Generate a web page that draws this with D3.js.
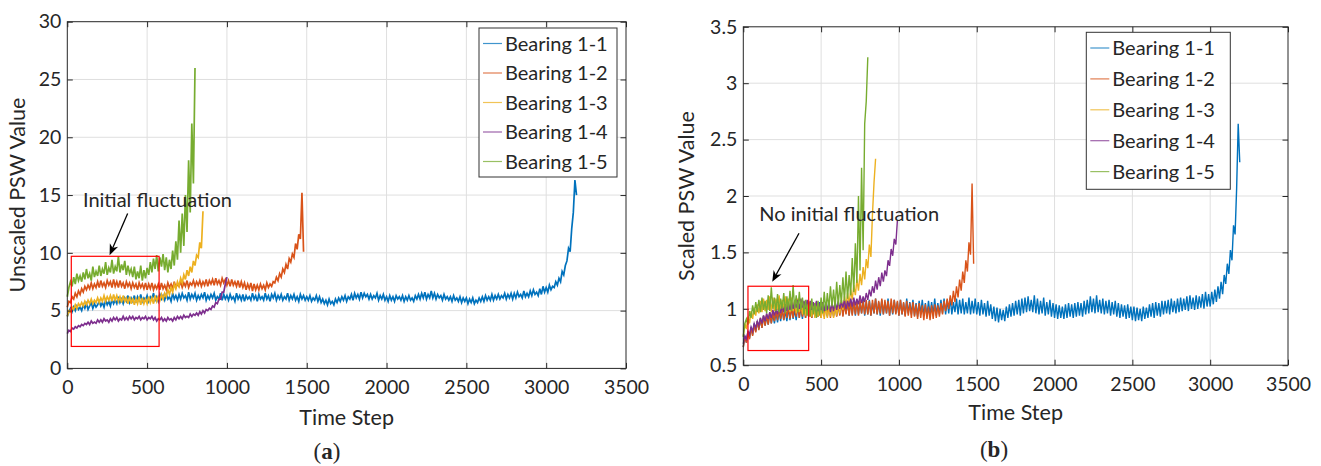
<!DOCTYPE html>
<html><head><meta charset="utf-8">
<script src="https://cdn.jsdelivr.net/npm/d3@7"></script>
<style>
body{margin:0;background:#fff}
svg{display:block}
text{font-family:Lato,"Open Sans",sans-serif;fill:#262626}
</style>
</head><body>
<svg id="c" width="1321" height="466"></svg>
<script>
// ---------- data ----------
const seriesNames = ["Bearing 1-1","Bearing 1-2","Bearing 1-3","Bearing 1-4","Bearing 1-5"];
const seriesColors = ["#0072BD","#D95319","#EDB120","#7E2F8E","#77AC30"];
const timeStep = 10;
const xTickValues = [0,500,1000,1500,2000,2500,3000,3500];
const yTicksUnscaled = [0,5,10,15,20,25,30];
const yTicksScaled = [0.5,1,1.5,2,2.5,3,3.5];

const unscaled11 = [
4.5,4.9,5.2,4.9,5.3,5.0,5.4,5.1,5.3,5.0,
5.5,5.2,5.6,5.1,5.4,5.7,5.2,5.6,5.3,5.5,
5.8,5.4,5.7,5.3,5.9,5.5,5.8,5.4,6.0,5.6,
5.9,5.6,6.2,5.7,6.0,5.6,6.1,5.8,6.3,5.7,
6.1,5.8,6.3,5.7,6.2,5.9,6.4,5.8,6.1,5.9,
6.3,5.8,6.2,6.0,6.5,5.9,6.2,5.8,6.4,6.0,
6.3,5.9,6.4,6.0,6.2,5.8,6.5,6.0,6.3,5.9,
6.4,6.0,6.5,6.1,6.3,5.9,6.6,6.0,6.4,6.1,
6.5,5.9,6.3,6.0,6.4,6.1,6.6,5.9,6.3,6.0,
6.4,6.1,6.5,5.9,6.2,6.0,6.5,5.9,6.4,6.0,
6.3,5.9,6.4,6.0,6.2,5.8,6.5,6.0,6.3,5.9,
6.4,5.8,6.3,6.0,6.2,5.9,6.5,6.0,6.3,5.8,
6.4,6.0,6.2,5.9,6.5,6.0,6.3,5.8,6.4,6.1,
6.5,5.9,6.3,6.0,6.4,5.9,6.2,6.0,6.5,5.9,
6.3,6.0,6.4,5.9,6.2,5.8,6.4,6.0,6.3,5.9,
6.2,5.9,6.3,5.8,6.1,5.9,6.3,5.8,6.2,5.7,
6.0,5.6,5.9,5.5,6.0,5.6,5.8,5.5,6.0,5.7,
6.1,5.8,6.2,5.9,6.3,5.8,6.2,6.0,6.4,5.9,
6.5,6.1,6.4,6.0,6.6,6.1,6.5,6.2,6.4,6.0,
6.4,6.0,6.3,6.1,6.5,5.9,6.3,6.0,6.4,5.9,
6.2,5.8,6.3,5.9,6.2,5.8,6.3,6.0,6.2,5.9,
6.3,5.8,6.2,5.9,6.3,5.9,6.1,5.8,6.3,6.0,
6.4,6.0,6.5,6.1,6.6,6.0,6.4,6.1,6.7,6.1,
6.5,6.0,6.4,6.1,6.3,5.9,6.4,6.0,6.2,5.9,
6.2,5.8,6.3,5.9,6.1,5.8,6.2,5.7,6.1,5.8,
6.1,5.6,6.0,5.7,6.1,5.6,5.9,5.7,6.1,5.8,
6.2,5.8,6.3,5.9,6.2,5.9,6.4,5.9,6.3,6.0,
6.4,6.0,6.3,6.1,6.5,6.0,6.4,6.1,6.5,6.0,
6.5,6.1,6.6,6.2,6.4,6.1,6.7,6.2,6.5,6.2,
6.7,6.3,6.8,6.4,6.6,6.3,6.9,6.4,7.1,6.6,
7.0,6.6,7.2,6.8,7.1,7.0,7.5,7.2,7.8,7.5,
8.4,8.1,8.9,9.3,10.4,10.1,12.1,13.5,16.3,15.0];
const unscaled12 = [
5.3,5.8,5.7,6.2,6.0,6.5,6.2,6.7,6.4,6.9,
6.6,7.1,6.8,7.2,6.9,7.4,6.9,7.3,7.0,7.5,
7.0,7.6,7.1,7.4,7.0,7.6,7.2,7.5,7.0,7.7,
7.1,7.5,7.0,7.6,7.1,7.4,6.9,7.5,7.1,7.4,
6.9,7.4,7.0,7.3,6.8,7.4,7.0,7.3,6.9,7.4,
6.8,7.3,6.9,7.4,6.8,7.2,6.9,7.3,6.8,7.4,
6.9,7.2,6.8,7.4,7.0,7.3,6.9,7.5,7.0,7.3,
7.1,7.5,7.0,7.4,7.1,7.6,7.0,7.4,7.2,7.6,
7.1,7.5,7.2,7.6,7.1,7.5,7.2,7.7,7.1,7.6,
7.3,7.7,7.2,7.8,7.3,7.6,7.2,7.8,7.4,7.7,
7.2,7.6,7.1,7.7,7.2,7.5,7.1,7.6,7.0,7.5,
7.0,7.4,6.8,7.3,6.9,7.4,6.7,7.3,6.8,7.2,
6.8,7.3,6.9,7.2,6.8,7.4,7.0,7.3,7.1,7.5,
7.4,7.9,7.6,8.2,7.9,8.6,8.3,9.0,8.6,9.5,
9.2,9.9,9.6,10.8,10.3,11.6,11.2,15.2,10.1];
const unscaled13 = [
4.5,5.0,4.9,5.3,5.1,5.5,5.2,5.6,5.4,5.7,
5.4,5.8,5.5,5.9,5.6,6.0,5.6,5.9,5.7,6.1,
5.7,6.1,5.8,6.3,5.8,6.2,5.9,6.3,5.8,6.4,
5.9,6.3,5.8,6.2,5.7,6.3,5.8,6.1,5.6,6.2,
5.6,6.1,5.5,6.0,5.6,6.2,5.5,6.1,5.6,6.0,
5.6,6.2,5.7,6.1,5.6,6.3,5.8,6.2,5.9,6.4,
6.0,6.5,6.2,6.8,6.4,7.0,6.6,7.3,6.9,7.5,
7.1,7.8,7.4,8.1,7.7,8.5,8.0,8.8,8.3,9.3,
8.9,9.8,9.6,10.9,10.4,13.6];
const unscaled14 = [
3.0,3.3,3.2,3.5,3.4,3.6,3.5,3.7,3.6,3.8,
3.7,3.9,3.8,4.0,3.8,4.1,3.9,4.0,3.9,4.2,
4.0,4.2,4.0,4.3,4.1,4.2,4.0,4.3,4.1,4.4,
4.2,4.4,4.1,4.3,4.2,4.5,4.2,4.4,4.2,4.5,
4.3,4.5,4.2,4.4,4.3,4.5,4.2,4.4,4.3,4.5,
4.2,4.4,4.3,4.5,4.2,4.4,4.1,4.3,4.2,4.4,
4.1,4.3,4.1,4.4,4.2,4.3,4.1,4.4,4.2,4.5,
4.3,4.5,4.3,4.6,4.4,4.5,4.4,4.7,4.5,4.7,
4.6,4.8,4.6,4.9,4.7,5.0,4.8,5.1,5.0,5.2,
5.1,5.4,5.3,5.7,5.6,6.0,6.0,6.6,6.6,7.3,
7.9];
const unscaled15 = [
6.2,7.0,7.5,7.1,7.9,7.3,8.2,7.6,8.0,7.5,
8.3,7.7,8.6,7.8,8.2,7.6,8.8,7.9,8.4,8.0,
8.9,8.0,8.6,8.2,9.2,8.1,8.7,8.3,9.4,8.2,
8.8,8.4,9.7,8.3,9.0,8.5,9.3,8.1,8.9,8.2,
8.6,7.9,8.8,7.7,8.4,7.8,8.9,7.6,8.5,7.8,
8.7,8.1,9.2,8.3,9.5,8.6,9.8,8.4,9.6,8.8,
9.9,8.5,9.6,8.3,9.4,8.6,10.2,8.9,11.0,9.4,
12.8,10.0,13.4,10.6,15.0,11.8,18.0,13.5,21.2,16.0,
26.0];

const scaled11 = [
0.66,0.76,0.70,0.80,0.74,0.84,0.77,0.87,0.80,0.89,
0.82,0.91,0.83,0.94,0.85,0.93,0.86,0.96,0.87,0.95,
0.87,0.97,0.88,0.98,0.89,1.00,0.90,0.98,0.89,1.01,
0.90,1.02,0.91,0.99,0.90,1.03,0.92,1.01,0.91,1.04,
0.92,1.03,0.93,1.05,0.92,1.04,0.94,1.05,0.93,1.06,
0.93,1.05,0.94,1.06,0.93,1.07,0.95,1.04,0.94,1.07,
0.94,1.06,0.95,1.08,0.94,1.05,0.96,1.07,0.94,1.08,
0.95,1.07,0.94,1.08,0.95,1.05,0.96,1.09,0.94,1.06,
0.95,1.08,0.94,1.05,0.96,1.09,0.95,1.06,0.94,1.08,
0.95,1.06,0.96,1.09,0.94,1.05,0.95,1.08,0.96,1.06,
0.94,1.08,0.95,1.05,0.94,1.09,0.96,1.06,0.95,1.08,
0.94,1.05,0.93,1.07,0.95,1.08,0.94,1.05,0.93,1.07,
0.94,1.06,0.95,1.09,0.94,1.05,0.95,1.08,0.96,1.09,
0.95,1.08,0.96,1.10,0.95,1.06,0.97,1.09,0.95,1.08,
0.96,1.09,0.95,1.06,0.96,1.10,0.95,1.07,0.96,1.09,
0.95,1.06,0.94,1.08,0.95,1.05,0.93,1.07,0.94,1.04,
0.91,1.02,0.89,1.01,0.88,1.00,0.90,0.99,0.89,1.02,
0.92,1.04,0.93,1.05,0.94,1.07,0.95,1.08,0.94,1.09,
0.96,1.10,0.97,1.11,0.98,1.08,0.97,1.12,0.96,1.09,
0.95,1.07,0.96,1.10,0.94,1.06,0.95,1.08,0.93,1.05,
0.92,1.04,0.91,1.03,0.92,1.02,0.91,1.04,0.92,1.05,
0.93,1.04,0.92,1.05,0.93,1.06,0.94,1.05,0.93,1.07,
0.95,1.08,0.96,1.11,0.97,1.09,0.96,1.12,0.97,1.08,
0.96,1.09,0.95,1.07,0.96,1.08,0.94,1.06,0.95,1.07,
0.93,1.05,0.92,1.04,0.93,1.03,0.91,1.04,0.92,1.02,
0.90,1.02,0.89,1.01,0.90,1.00,0.89,1.02,0.91,1.01,
0.92,1.04,0.93,1.05,0.92,1.06,0.94,1.05,0.93,1.07,
0.95,1.07,0.96,1.08,0.95,1.09,0.97,1.07,0.96,1.09,
0.97,1.10,0.98,1.09,0.99,1.11,0.98,1.12,1.00,1.10,
0.99,1.12,1.00,1.11,1.01,1.13,1.00,1.15,1.02,1.13,
1.02,1.15,1.04,1.17,1.06,1.20,1.09,1.24,1.13,1.30,
1.22,1.40,1.31,1.52,1.43,1.74,1.66,2.07,2.64,2.30];
const scaled12 = [
0.66,0.75,0.70,0.79,0.73,0.83,0.76,0.86,0.79,0.89,
0.81,0.92,0.83,0.94,0.85,0.95,0.86,0.97,0.87,0.98,
0.89,0.99,0.90,1.01,0.91,1.00,0.90,1.02,0.92,1.03,
0.91,1.02,0.92,1.04,0.93,1.03,0.92,1.05,0.93,1.04,
0.92,1.03,0.93,1.05,0.92,1.04,0.94,1.06,0.93,1.03,
0.92,1.04,0.93,1.05,0.94,1.04,0.92,1.06,0.93,1.05,
0.93,1.04,0.94,1.06,0.93,1.05,0.95,1.07,0.94,1.06,
0.94,1.07,0.95,1.06,0.94,1.08,0.96,1.07,0.95,1.08,
0.95,1.07,0.94,1.08,0.96,1.09,0.95,1.07,0.96,1.09,
0.95,1.08,0.96,1.07,0.94,1.09,0.96,1.08,0.95,1.07,
0.94,1.08,0.95,1.06,0.93,1.07,0.94,1.05,0.92,1.06,
0.93,1.04,0.91,1.05,0.92,1.03,0.90,1.04,0.91,1.02,
0.90,1.03,0.91,1.04,0.92,1.03,0.93,1.05,0.95,1.07,
0.98,1.09,1.00,1.12,1.03,1.16,1.06,1.20,1.10,1.26,
1.16,1.33,1.23,1.43,1.33,1.59,1.48,2.11,1.40];
const scaled13 = [
0.76,0.87,0.82,0.93,0.87,0.98,0.91,1.01,0.94,1.04,
0.96,1.07,0.97,1.09,0.98,1.08,0.99,1.11,0.97,1.10,
0.98,1.09,0.99,1.12,0.97,1.08,1.00,1.11,0.98,1.09,
0.97,1.10,0.98,1.08,0.96,1.09,0.97,1.07,0.95,1.06,
0.94,1.05,0.95,1.04,0.93,1.05,0.92,1.03,0.93,1.04,
0.92,1.02,0.91,1.03,0.92,1.01,0.93,1.04,0.92,1.03,
0.94,1.05,0.96,1.08,0.99,1.11,1.02,1.14,1.04,1.17,
1.08,1.21,1.12,1.26,1.16,1.31,1.21,1.37,1.26,1.44,
1.36,1.57,1.46,1.84,2.12,2.33];
const scaled14 = [
0.69,0.76,0.73,0.80,0.77,0.84,0.80,0.87,0.83,0.89,
0.85,0.92,0.87,0.94,0.89,0.96,0.91,0.97,0.92,0.99,
0.94,1.00,0.95,1.02,0.96,1.03,0.97,1.04,0.98,1.05,
0.99,1.06,1.00,1.07,1.01,1.08,1.00,1.09,1.01,1.07,
1.00,1.08,1.01,1.07,0.99,1.06,1.00,1.07,0.98,1.05,
0.99,1.06,0.98,1.05,0.99,1.06,0.97,1.05,0.98,1.06,
0.99,1.07,1.00,1.06,1.01,1.08,1.00,1.07,1.02,1.09,
1.02,1.10,1.03,1.09,1.04,1.12,1.05,1.11,1.06,1.14,
1.08,1.17,1.11,1.20,1.14,1.25,1.17,1.28,1.20,1.32,
1.24,1.34,1.29,1.43,1.38,1.53,1.47,1.62,1.57,1.78];
const scaled15 = [
0.75,0.87,0.91,0.86,0.98,0.92,1.03,0.95,1.06,0.97,
1.08,0.97,1.10,0.99,1.07,0.96,1.12,0.98,1.19,1.00,
1.10,0.98,1.13,0.97,1.09,1.00,1.14,0.96,1.11,0.99,
1.16,0.98,1.21,1.00,1.12,0.97,1.15,0.99,1.10,0.95,
1.08,0.94,1.06,0.93,1.09,0.95,1.05,0.92,1.07,0.94,
1.10,0.96,1.15,0.98,1.14,1.00,1.20,1.02,1.17,1.01,
1.24,1.03,1.21,1.05,1.28,1.07,1.33,1.09,1.30,1.12,
1.45,1.15,1.58,1.23,2.00,1.34,2.25,1.52,2.64,2.84,
3.23];

// annotation anchors in data units: [time, value]
const boxUnscaled = [[25,9.7],[575,1.9]];
const boxScaled = [[30,1.2],[420,0.63]];
const arrowUnscaled = [[378,13.4],[265,9.8]];
const arrowScaled = [[358,1.67],[186,1.24]];
const labelUnscaled = {text:"Initial fluctuation", at:[98,14.0]};
const labelScaled = {text:"No initial fluctuation", at:[103,1.78]};

// ---------- drawing ----------
const svg = d3.select("#c");
const AX = "#262626", GRID = "#dfdfdf";

function panel(cfg){
  const g = svg.append("g");
  const x = d3.scaleLinear().domain([0,3500]).range([cfg.left,cfg.right]);
  const y = d3.scaleLinear().domain(cfg.yDomain).range([cfg.bottom,cfg.top]);

  // grid
  g.append("g").selectAll("line").data(xTickValues.slice(1,-1)).join("line")
    .attr("x1",d=>x(d)).attr("x2",d=>x(d)).attr("y1",cfg.top).attr("y2",cfg.bottom)
    .attr("stroke",GRID).attr("stroke-width",1);
  g.append("g").selectAll("line").data(cfg.yTicks.slice(1,-1)).join("line")
    .attr("y1",d=>y(d)).attr("y2",d=>y(d)).attr("x1",cfg.left).attr("x2",cfg.right)
    .attr("stroke",GRID).attr("stroke-width",1);

  // series
  const line = d3.line().x(d=>x(d[0])).y(d=>y(d[1]));
  cfg.series.forEach((vals,k)=>{
    const pts = vals.map((v,i)=>[i*timeStep, v]);
    g.append("path").attr("d",line(pts)).attr("fill","none")
      .attr("stroke",seriesColors[k]).attr("stroke-width",cfg.lw).attr("stroke-linejoin","miter");
  });

  // axes
  const fmt = d=>String(d);
  const ax = g.append("g").attr("transform",`translate(0,${cfg.bottom})`)
    .call(d3.axisBottom(x).tickValues(xTickValues).tickFormat(fmt).tickSize(-5.5).tickSizeOuter(0).tickPadding(12));
  const ay = g.append("g").attr("transform",`translate(${cfg.left},0)`)
    .call(d3.axisLeft(y).tickValues(cfg.yTicks).tickFormat(fmt).tickSize(-5.5).tickSizeOuter(0).tickPadding(6));
  const at = g.append("g").attr("transform",`translate(0,${cfg.top})`)
    .call(d3.axisTop(x).tickValues(xTickValues).tickFormat("").tickSize(-5.5).tickSizeOuter(0));
  const ar = g.append("g").attr("transform",`translate(${cfg.right},0)`)
    .call(d3.axisRight(y).tickValues(cfg.yTicks).tickFormat("").tickSize(-5.5).tickSizeOuter(0));
  [ax,ay,at,ar].forEach(a=>{
    a.select(".domain").remove();
    a.selectAll("line").attr("stroke",AX).attr("stroke-width",1);
    a.selectAll("text").attr("fill",AX).style("font-family","Lato").style("font-size","19.5px");
  });
  g.append("rect").attr("x",cfg.left).attr("y",cfg.top)
    .attr("width",cfg.right-cfg.left).attr("height",cfg.bottom-cfg.top)
    .attr("fill","none").attr("stroke",AX).attr("stroke-width",1);

  // axis labels
  g.append("text").attr("x",(cfg.left+cfg.right)/2).attr("y",cfg.xLabelY)
    .attr("text-anchor","middle").style("font-size","21.5px").text("Time Step");
  g.append("text").attr("transform",`translate(${cfg.yLabelX},${(cfg.top+cfg.bottom)/2}) rotate(-90)`)
    .attr("text-anchor","middle").style("font-size","21.5px").text(cfg.yLabel);
  const cap = g.append("text").attr("x",cfg.capX).attr("y",cfg.capY).attr("text-anchor","middle")
    .style("font-family","'Liberation Serif','DejaVu Serif',serif").style("font-size","23px").attr("fill","#000");
  cap.append("tspan").text("(");
  cap.append("tspan").attr("font-weight","bold").text(cfg.cap);
  cap.append("tspan").text(")");

  // red box
  const b = cfg.box;
  g.append("rect").attr("x",x(b[0][0])).attr("y",y(b[0][1]))
    .attr("width",x(b[1][0])-x(b[0][0])).attr("height",y(b[1][1])-y(b[0][1]))
    .attr("fill","none").attr("stroke","#ff0000").attr("stroke-width",1.2);

  // arrow
  const a0=[x(cfg.arrow[0][0]),y(cfg.arrow[0][1])], a1=[x(cfg.arrow[1][0]),y(cfg.arrow[1][1])];
  const dx=a1[0]-a0[0], dy=a1[1]-a0[1], L=Math.hypot(dx,dy), ux=dx/L, uy=dy/L, px=-uy, py=ux;
  const hl=11, hw=4.5;
  g.append("line").attr("x1",a0[0]).attr("y1",a0[1]).attr("x2",a1[0]-ux*4).attr("y2",a1[1]-uy*4)
    .attr("stroke","#000").attr("stroke-width",1.3);
  g.append("path").attr("d",`M${a1[0]},${a1[1]} L${a1[0]-ux*hl+px*hw},${a1[1]-uy*hl+py*hw} L${a1[0]-ux*hl*0.7},${a1[1]-uy*hl*0.7} L${a1[0]-ux*hl-px*hw},${a1[1]-uy*hl-py*hw} Z`)
    .attr("fill","#000");
  g.append("text").attr("x",x(cfg.label.at[0])).attr("y",y(cfg.label.at[1]))
    .style("font-size","20px").attr("fill","#000").text(cfg.label.text);

  // legend
  const lg = cfg.legend;
  g.append("rect").attr("x",lg.x).attr("y",lg.y).attr("width",lg.w).attr("height",lg.h)
    .attr("fill","#fff").attr("stroke","#333").attr("stroke-width",1);
  seriesNames.forEach((n,k)=>{
    const cy = lg.firstY + k*lg.dy;
    g.append("line").attr("x1",lg.x+4).attr("x2",lg.x+23).attr("y1",cy).attr("y2",cy)
      .attr("stroke",seriesColors[k]).attr("stroke-width",1.2).attr("opacity",0.75);
    g.append("text").attr("x",lg.x+26).attr("y",cy).attr("dy","0.36em")
      .style("font-size","20px").attr("fill","#000").text(n);
  });
}

panel({left:67.3,right:626,top:21.7,bottom:368.4,yDomain:[0,30],yTicks:yTicksUnscaled,lw:1.7,
  series:[unscaled11,unscaled12,unscaled13,unscaled14,unscaled15],
  xLabelY:425,yLabelX:25,yLabel:"Unscaled PSW Value",capX:327,capY:459,cap:"a",
  box:boxUnscaled,arrow:arrowUnscaled,label:labelUnscaled,
  legend:{x:479,y:28,w:138,h:149,firstY:43.5,dy:29.5}});
panel({left:743.3,right:1288,top:26.8,bottom:365.2,yDomain:[0.5,3.5],yTicks:yTicksScaled,lw:1.4,
  series:[scaled11,scaled12,scaled13,scaled14,scaled15],
  xLabelY:420,yLabelX:694,yLabel:"Scaled PSW Value",capX:994,capY:457,cap:"b",
  box:boxScaled,arrow:arrowScaled,label:labelScaled,
  legend:{x:1086.3,y:32.3,w:144,h:157,firstY:48,dy:30.9}});
</script>
</body></html>
